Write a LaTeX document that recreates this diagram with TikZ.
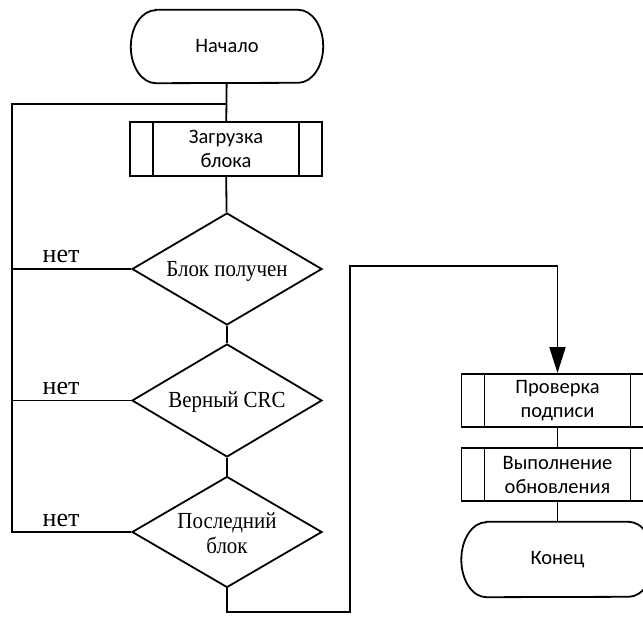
\documentclass[tikz,border=0pt]{standalone}
\usepackage{fontspec}
\setmainfont{Liberation Serif}
\newfontfamily\boxfont{Carlito}
\newfontfamily\diafont[FakeStretch=0.91]{Liberation Serif}
\usetikzlibrary{shapes.geometric,arrows.meta}

% outline of a terminal block: flat top and bottom, elliptic ends
\newcommand\termoutline[3]{%
  \draw[flow] ([xshift=#2]#1.north west) -- ([xshift=-#2]#1.north east)
    arc[start angle=90, end angle=-90, x radius=#2, y radius=#3]
    -- ([xshift=#2]#1.south west)
    arc[start angle=270, end angle=90, x radius=#2, y radius=#3] -- cycle;}

\tikzset{
  flow/.style={line width=1.8pt},
  terminal/.style={minimum width=192pt, inner sep=0pt, align=center,
    font=\boxfont\fontsize{20.5}{24}\selectfont},
  subproc/.style={draw, line width=1.8pt, minimum width=192pt,
    inner sep=0pt, align=center,
    font=\boxfont\fontsize{20.5}{24}\selectfont,
    path picture={
      \draw[line width=1.8pt]
        ([xshift=23pt]path picture bounding box.north west) --
        ([xshift=23pt]path picture bounding box.south west)
        ([xshift=-23pt]path picture bounding box.north east) --
        ([xshift=-23pt]path picture bounding box.south east);
    }},
  decision/.style={draw, diamond, line width=1.8pt, shape aspect=1.7,
    minimum width=190pt, minimum height=112pt, inner sep=0pt},
  diatext/.style={inner sep=0pt, align=center,
    font=\diafont\fontsize{23}{25}\selectfont},
  nolabel/.style={font=\fontsize{26}{26}\selectfont, anchor=base,
    inner sep=0pt},
}

\begin{document}
\begin{tikzpicture}[x=1pt, y=-1pt]
  \clip (0,0) rectangle (643,617);
  \useasboundingbox (0,0) rectangle (643,617);

  % main column
  \node[terminal, minimum height=73pt] (start) at (227,46.5) {Начало};
  \termoutline{start}{25pt}{36.5pt}
  \node[subproc, minimum height=54pt] (load) at (226,149) {Загрузка\\блока};
  \node[decision] (recv) at (227,269) {};
  \node[diatext, anchor=base] (recvT) at (227,277) {Блок получен};
  \node[decision, minimum height=113pt] (crc) at (227,400.5) {};
  \node[diatext, anchor=base] (crcT) at (227,408) {Верный CRC};
  \node[decision, minimum height=111pt] (last) at (227,532) {};
  \node[diatext] (lastT) at (227,533) {Последний\\блок};

  % right column
  \node[subproc, minimum height=53pt] (sign) at (557.5,400.5) {Проверка\\подписи};
  \node[subproc, minimum height=53pt] (update) at (557.5,474.5) {Выполнение\\обновления};
  \node[terminal, minimum height=75pt] (stop) at (557.5,559.5) {Конец};
  \termoutline{stop}{25pt}{37.5pt}

  % loop points
  \coordinate (join) at (227,104);
  \coordinate (rail) at (12,104);
  \coordinate (exitL) at (227,612);
  \coordinate (exitR) at (350,612);
  \coordinate (topR) at (350,266);
  \coordinate (topS) at (557.5,266);

  % straight flow
  \draw[flow] (start) -- (load);
  \draw[flow] (load) -- (recv);
  \draw[flow] (recv) -- (crc);
  \draw[flow] (crc) -- (last);
  \draw[flow] (sign) -- (update);
  \draw[flow] (update) -- (stop);

  % "no" branches back to loading
  \draw[flow] (last.west) -- (last.west -| rail) -- (rail) -- (join);
  \draw[flow] (recv.west) -- (recv.west -| rail);
  \draw[flow] (crc.west) -- (crc.west -| rail);
  \node[nolabel] (n1) at (61,263) {нет};
  \node[nolabel] (n2) at (61,395) {нет};
  \node[nolabel] (n3) at (61,526) {нет};

  % exit to signature check
  \draw[flow, -{Triangle[width=16pt,length=26pt]}]
    (last.south) -- (exitL) -- (exitR) -- (topR) -- (topS) -- (sign.north);
\end{tikzpicture}
\end{document}
